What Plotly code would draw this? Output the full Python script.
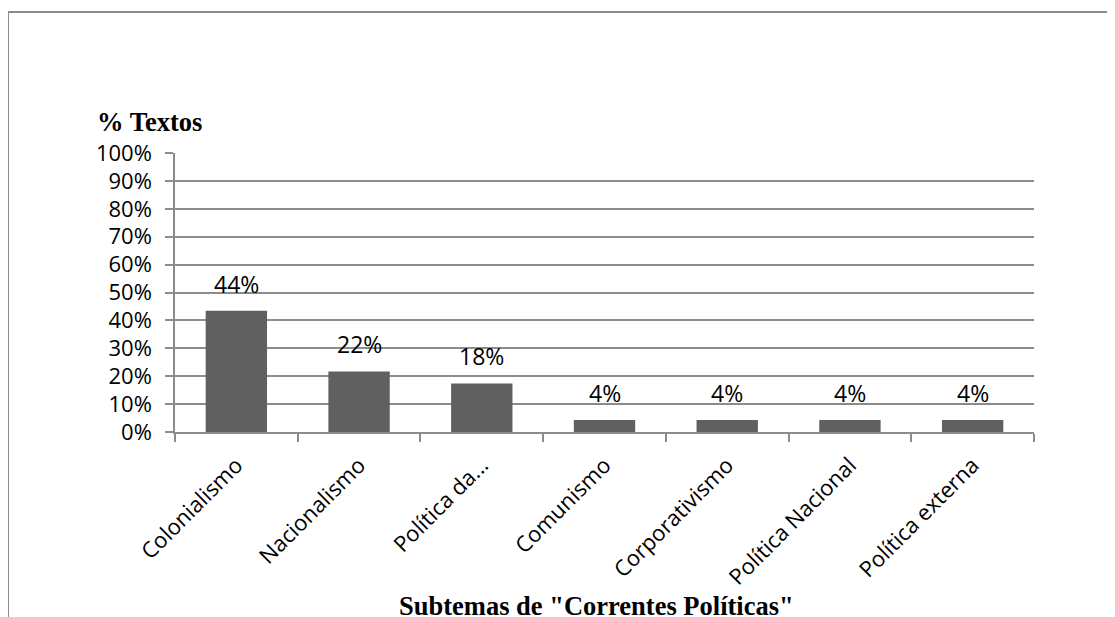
import plotly.graph_objects as go

categories = ["Colonialismo", "Nacionalismo", "Política da...", "Comunismo",
              "Corporativismo", "Política Nacional", "Política externa"]
values = [43.5, 21.7, 17.4, 4.3, 4.3, 4.3, 4.3]
labels = ["44%", "22%", "18%", "4%", "4%", "4%", "4%"]
y_ticks = [0, 10, 20, 30, 40, 50, 60, 70, 80, 90, 100]
y_tick_text = [f"{v}%" for v in y_ticks]

OFF = 8  # page body margin
W, H = 1115 - OFF, 617 - OFF
L, R, T, B = 175, 1034, 153, 432  # in screenshot pixels
pw, ph = R - L, B - T

def px(x):
    return (x - L) / pw

def py(y):
    return (B - y) / ph

fig = go.Figure()
fig.add_trace(go.Bar(x=categories, y=values, marker=dict(color="#606060", line=dict(width=0)),
                     hoverinfo="skip"))

for c, v, t in zip(categories, values, labels):
    fig.add_annotation(x=c, y=v, text=t, showarrow=False, yanchor="middle", yshift=27,
                       font=dict(family="Open Sans", size=23, color="#000000"))

fig.add_annotation(xref="paper", yref="paper", x=px(95), y=py(122), xanchor="left", yanchor="middle",
                   text="<b>% Textos</b>", showarrow=False,
                   font=dict(family="Liberation Serif", size=26.5, color="#000000"))
fig.add_annotation(xref="paper", yref="paper", x=px(596), y=py(606), xanchor="center", yanchor="middle",
                   text="<b>Subtemas de \"Correntes Políticas\"</b>", showarrow=False,
                   font=dict(family="Liberation Serif", size=26.5, color="#000000"))

# outer frame
fig.add_shape(type="rect", xref="paper", yref="paper", x0=px(8), x1=px(1130), y0=py(640), y1=py(12),
              line=dict(color="#8c8c8c", width=2), fillcolor="rgba(0,0,0,0)", layer="below")

fig.update_layout(
    width=W, height=H,
    margin=dict(l=L - OFF, r=W - (R - OFF), t=T - OFF, b=H - (B - OFF), pad=0),
    paper_bgcolor="white", plot_bgcolor="white",
    bargap=0.5, showlegend=False,
    font=dict(family="Open Sans", size=22, color="#000000"),
)
fig.update_xaxes(tickangle=-45, tickson="boundaries", ticks="outside", ticklen=8, tickwidth=1.5,
                 tickcolor="#8c8c8c", showline=True, linecolor="#8c8c8c", linewidth=1.5,
                 showgrid=False, tickfont=dict(family="Open Sans", size=22), fixedrange=True,
                 ticklabelstandoff=10)
fig.update_yaxes(range=[0, 100], tickvals=y_ticks, ticktext=y_tick_text, ticks="outside", ticklen=8,
                 tickwidth=1.5, tickcolor="#8c8c8c", showline=True, linecolor="#8c8c8c", linewidth=1.5,
                 showgrid=True, gridcolor="#8c8c8c", gridwidth=1.5, zeroline=False,
                 tickfont=dict(family="Open Sans", size=22), fixedrange=True,
                 ticklabelstandoff=9)

fig.write_html("out.html")
